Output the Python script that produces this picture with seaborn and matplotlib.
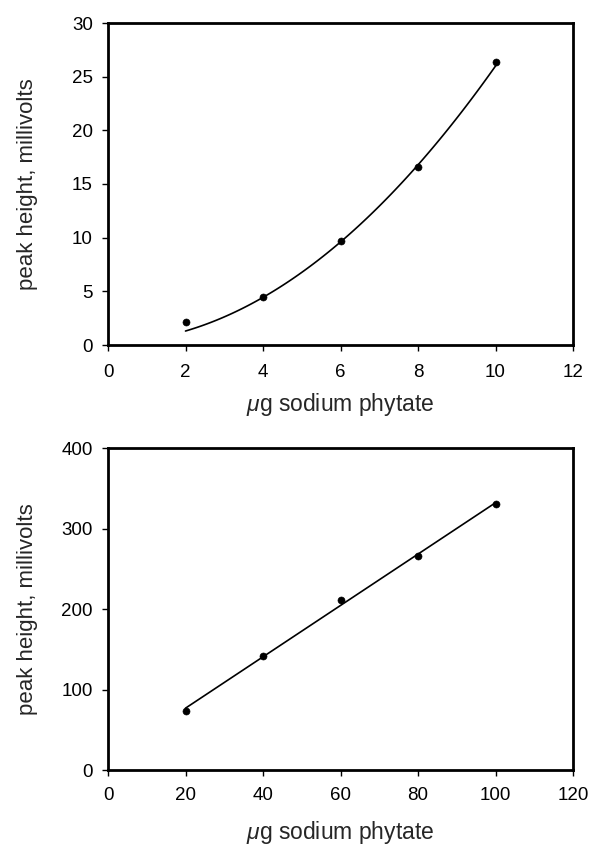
import numpy as np
import pandas as pd
import matplotlib
matplotlib.use('Agg')
import matplotlib.pyplot as plt
import seaborn as sns

sns.set_style('ticks')
plt.rcParams['font.family'] = ['Liberation Sans', 'DejaVu Sans']
plt.rcParams['mathtext.fontset'] = 'custom'
plt.rcParams['mathtext.it'] = 'Liberation Sans:italic'

# top panel: low range
low_ug = [2, 4, 6, 8, 10]
low_mv = [2.1, 4.5, 9.7, 16.6, 26.4]
# curve coefficients read from the drawn fit (c2, c1, c0)
low_curve_coef = [0.253, 0.05, 0.19]

# bottom panel: high range
high_ug = [20, 40, 60, 80, 100]
high_mv = [73, 142, 211, 266, 330]

xlabel = r'$\mu$g sodium phytate'
ylabel = 'peak height, millivolts'

W, H = 595, 846
fig = plt.figure(figsize=(W / 100, H / 100), dpi=100)
ax1 = fig.add_axes([108 / W, 1 - 345 / H, 465 / W, 322 / H])
ax2 = fig.add_axes([108 / W, 1 - 770 / H, 465 / W, 322 / H])

# top: curve + points
xs = np.linspace(low_ug[0], low_ug[-1], 100)
curve = pd.DataFrame({'x': xs, 'y': np.polyval(low_curve_coef, xs)})
sns.lineplot(data=curve, x='x', y='y', ax=ax1, color='black', linewidth=1.2)
sns.scatterplot(x=low_ug, y=low_mv, ax=ax1, color='black', s=26, edgecolor='black', zorder=3)
ax1.set_xlim(0, 12)
ax1.set_ylim(0, 30)
ax1.set_xticks(range(0, 13, 2))
ax1.set_yticks(range(0, 31, 5))

# bottom: linear fit + points
fit = np.polyfit(high_ug, high_mv, 1)
xl = np.array([high_ug[0], high_ug[-1]])
line = pd.DataFrame({'x': xl, 'y': np.polyval(fit, xl)})
sns.lineplot(data=line, x='x', y='y', ax=ax2, color='black', linewidth=1.2)
sns.scatterplot(x=high_ug, y=high_mv, ax=ax2, color='black', s=26, edgecolor='black', zorder=3)
ax2.set_xlim(0, 120)
ax2.set_ylim(0, 400)
ax2.set_xticks(range(0, 121, 20))
ax2.set_yticks(range(0, 401, 100))

for ax, xpad, ly in ((ax1, 9.5, -0.143), (ax2, 8, -0.152)):
    for sp in ax.spines.values():
        sp.set_linewidth(2.0)
        sp.set_color('black')
    ax.tick_params(direction='out', length=4, width=1.0, labelsize=13.5, colors='black')
    ax.tick_params(axis='y', pad=7)
    ax.tick_params(axis='x', pad=xpad)
    ax.set_xlabel(xlabel, fontsize=16.5)
    ax.set_ylabel(ylabel, fontsize=16)
    ax.xaxis.set_label_coords(0.5, ly)
    ax.yaxis.set_label_coords(-0.15, 0.5)

fig.savefig('out.png', dpi=100)
